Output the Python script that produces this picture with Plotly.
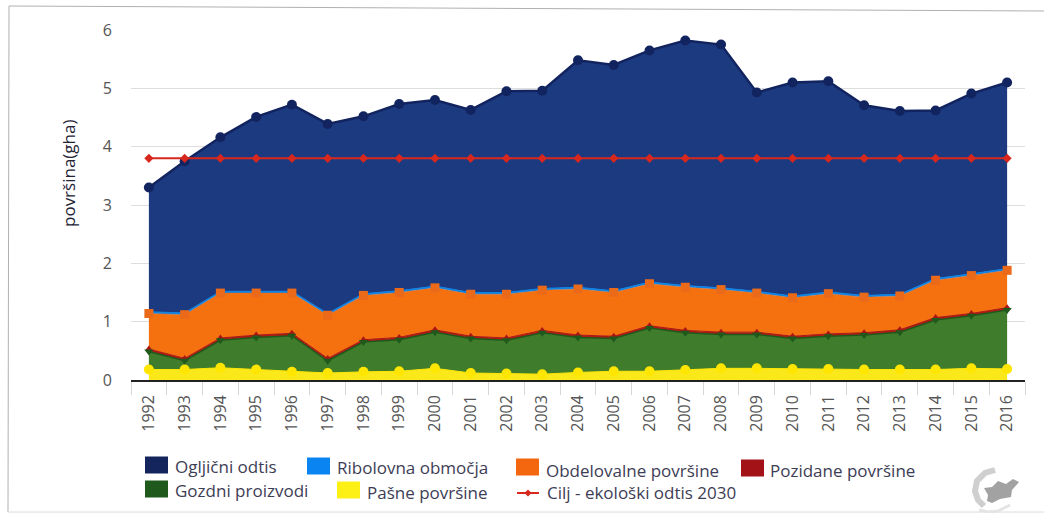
import plotly.graph_objects as go

years = [str(y) for y in range(1992, 2017)]
pasne = [0.18,0.18,0.21,0.18,0.14,0.12,0.14,0.15,0.20,0.12,0.11,0.10,0.13,0.15,0.15,0.17,0.20,0.20,0.19,0.19,0.18,0.18,0.18,0.20,0.19]
gozdni = [0.31,0.15,0.47,0.55,0.62,0.21,0.51,0.54,0.62,0.59,0.57,0.71,0.60,0.56,0.74,0.64,0.58,0.58,0.52,0.56,0.59,0.64,0.85,0.90,1.01]
pozidane = [0.04,0.04,0.04,0.04,0.04,0.04,0.04,0.04,0.04,0.04,0.04,0.04,0.04,0.04,0.04,0.04,0.04,0.04,0.04,0.04,0.04,0.04,0.04,0.04,0.04]
obdelovalne = [0.61,0.75,0.77,0.72,0.69,0.74,0.76,0.77,0.72,0.72,0.75,0.69,0.79,0.75,0.72,0.74,0.73,0.67,0.66,0.69,0.61,0.58,0.64,0.65,0.64]
ribolovna = [0.03,0.03,0.03,0.03,0.03,0.03,0.03,0.03,0.03,0.03,0.03,0.03,0.03,0.03,0.03,0.03,0.03,0.03,0.03,0.03,0.03,0.03,0.03,0.03,0.03]
ogljicni = [2.13,2.60,2.64,2.99,3.20,3.25,3.04,3.20,3.19,3.13,3.45,3.39,3.89,3.87,3.97,4.20,4.17,3.41,3.66,3.61,3.26,3.14,2.88,3.09,3.19]
cilj = [3.80] * 25

FONT = "Open Sans"
TXT = "#3d3d55"
TICK = "#555555"

# name, values, fill, line/marker colour, symbol, size, line width
layers = [
    ("Pašne površine", pasne, "#fbe81a", "#ffe600", "circle", 10, 1),
    ("Gozdni proizvodi", gozdni, "#3f7c2c", "#1f5a1c", "triangle-down", 8, 1.5),
    ("Pozidane površine", pozidane, "#b01a12", "#a81515", "triangle-up", 7, 1),
    ("Obdelovalne površine", obdelovalne, "#f5710f", "#ea6a1a", "square", 9, 0.5),
    ("Ribolovna območja", ribolovna, "#0a84e8", "#0a84e8", "diamond", 6, 1),
    ("Ogljični odtis", ogljicni, "#1c3a80", "#12245f", "circle", 10, 2.5),
]

fig = go.Figure()
cumulative = []
running = [0.0] * len(years)
for name, vals, fill, col, sym, size, lw in layers:
    fig.add_trace(go.Scatter(x=years, y=vals, name=name, stackgroup="one", mode="lines",
                             line=dict(color=col, width=lw), fillcolor=fill, showlegend=False))
    running = [a + b for a, b in zip(running, vals)]
    cumulative.append(running)
# markers sit in the reverse order of the stack: the lowest layer's markers on top
for (name, vals, fill, col, sym, size, lw), cum in reversed(list(zip(layers, cumulative))):
    if name in ("Ribolovna območja",):
        continue
    fig.add_trace(go.Scatter(x=years, y=cum, name=name, mode="markers", hoverinfo="skip",
                             marker=dict(color=col, symbol=sym, size=size), showlegend=False))
fig.add_trace(go.Scatter(x=years, y=cilj, name="Cilj - ekološki odtis 2030", mode="lines+markers",
                         line=dict(color="#d8281e", width=2),
                         marker=dict(color="#d8281e", symbol="diamond", size=7), showlegend=False))

W, H = 1044, 513
L, R, T, B = 131, 1025, 30, 380
px = lambda v: (v - L) / (R - L)
py = lambda v: (B - v) / (B - T)
def path(points):
    return "M" + " L".join(f"{px(x)},{py(y)}" for x, y in points)

shapes = [
    dict(type="path", xref="paper", yref="paper", layer="below",
         path=path([(8, 512), (9, 6), (1044, 11)]), line=dict(color="#b0b0b0", width=1)),
    dict(type="line", xref="paper", yref="paper", layer="below", x0=px(8), x1=px(1044),
         y0=py(512), y1=py(512), line=dict(color="#dcdcdc", width=1)),
    # grey logo: ring arc and map silhouette
    dict(type="path", xref="paper", yref="paper",
         path=path([(995, 470), (985, 473), (977, 481), (975, 491), (978, 500), (984, 506)]),
         line=dict(color="#cfcfcf", width=6)),
    dict(type="path", xref="paper", yref="paper",
         path=path([(984, 488), (992, 487), (998, 481), (1006, 484), (1013, 479), (1019, 482),
                    (1012, 490), (1011, 497), (1000, 499), (992, 503), (987, 501), (988, 495)]) + " Z",
         fillcolor="#a2a2a2", line=dict(width=0)),
    dict(type="path", xref="paper", yref="paper",
         path=path([(979, 510), (988, 512), (998, 511), (1010, 505)]),
         line=dict(color="#e4e4e4", width=3)),
]
annots = [dict(text="površina(gha)", textangle=-90, x=px(68), y=py(174), xref="paper", yref="paper",
               xanchor="center", yanchor="middle", showarrow=False,
               font=dict(family=FONT, size=17, color="#222233"))]

# label, swatch colour, swatch left, swatch centre y, text left, text centre y
legend_items = [
    ("Ogljični odtis", "#14245c", 145, 465, 175, 466),
    ("Ribolovna območja", "#0a84f0", 307, 466, 337, 468),
    ("Obdelovalne površine", "#f4670f", 516, 467, 546, 470),
    ("Pozidane površine", "#a31217", 741, 468, 770, 470),
    ("Gozdni proizvodi", "#1f5a1c", 145, 489, 175, 490),
    ("Pašne površine", "#fdf014", 337, 490, 367, 492),
]
for text, col, x0, yc, tx, ty in legend_items:
    shapes.append(dict(type="rect", xref="paper", yref="paper", x0=px(x0), x1=px(x0 + 23),
                       y0=py(yc + 8.5), y1=py(yc - 8.5), fillcolor=col, line=dict(width=0)))
    annots.append(dict(text=text, x=px(tx), y=py(ty), xref="paper", yref="paper",
                       xanchor="left", yanchor="middle", showarrow=False, xshift=-2,
                       font=dict(family=FONT, size=17, color=TXT)))
shapes.append(dict(type="line", xref="paper", yref="paper", x0=px(517), x1=px(539),
                   y0=py(493), y1=py(493), line=dict(color="#d8281e", width=2)))
shapes.append(dict(type="path", xref="paper", yref="paper",
                   path=path([(528, 489.5), (531.5, 493), (528, 496.5), (524.5, 493)]) + " Z",
                   fillcolor="#d8281e", line=dict(width=0)))
annots.append(dict(text="Cilj - ekološki odtis 2030", x=px(547), y=py(492), xref="paper", yref="paper",
                   xanchor="left", yanchor="middle", showarrow=False, xshift=-2,
                   font=dict(family=FONT, size=17, color=TXT)))

fig.update_layout(
    width=W, height=H, autosize=False, paper_bgcolor="white", plot_bgcolor="white",
    margin=dict(l=L, r=W - R, t=T, b=H - B),
    showlegend=False, shapes=shapes, annotations=annots,
    font=dict(family=FONT, color=TICK),
    xaxis=dict(type="category", range=[-0.5, 24.5], tickangle=-90, tickson="boundaries",
               ticks="outside", ticklen=13, tickcolor="#d6d6d6", showline=True,
               linecolor="#222222", linewidth=1.5, showgrid=False, ticklabelstandoff=7,
               tickfont=dict(family=FONT, size=16, color=TICK)),
    yaxis=dict(range=[0, 6], dtick=1, gridcolor="#dedede", gridwidth=1, zeroline=False,
               ticks="outside", ticklen=15, tickcolor="rgba(0,0,0,0)",
               tickfont=dict(family=FONT, size=16, color=TICK)),
)
fig.write_html("out.html", config={"displayModeBar": False},
               post_script="document.body.style.margin='0';")
